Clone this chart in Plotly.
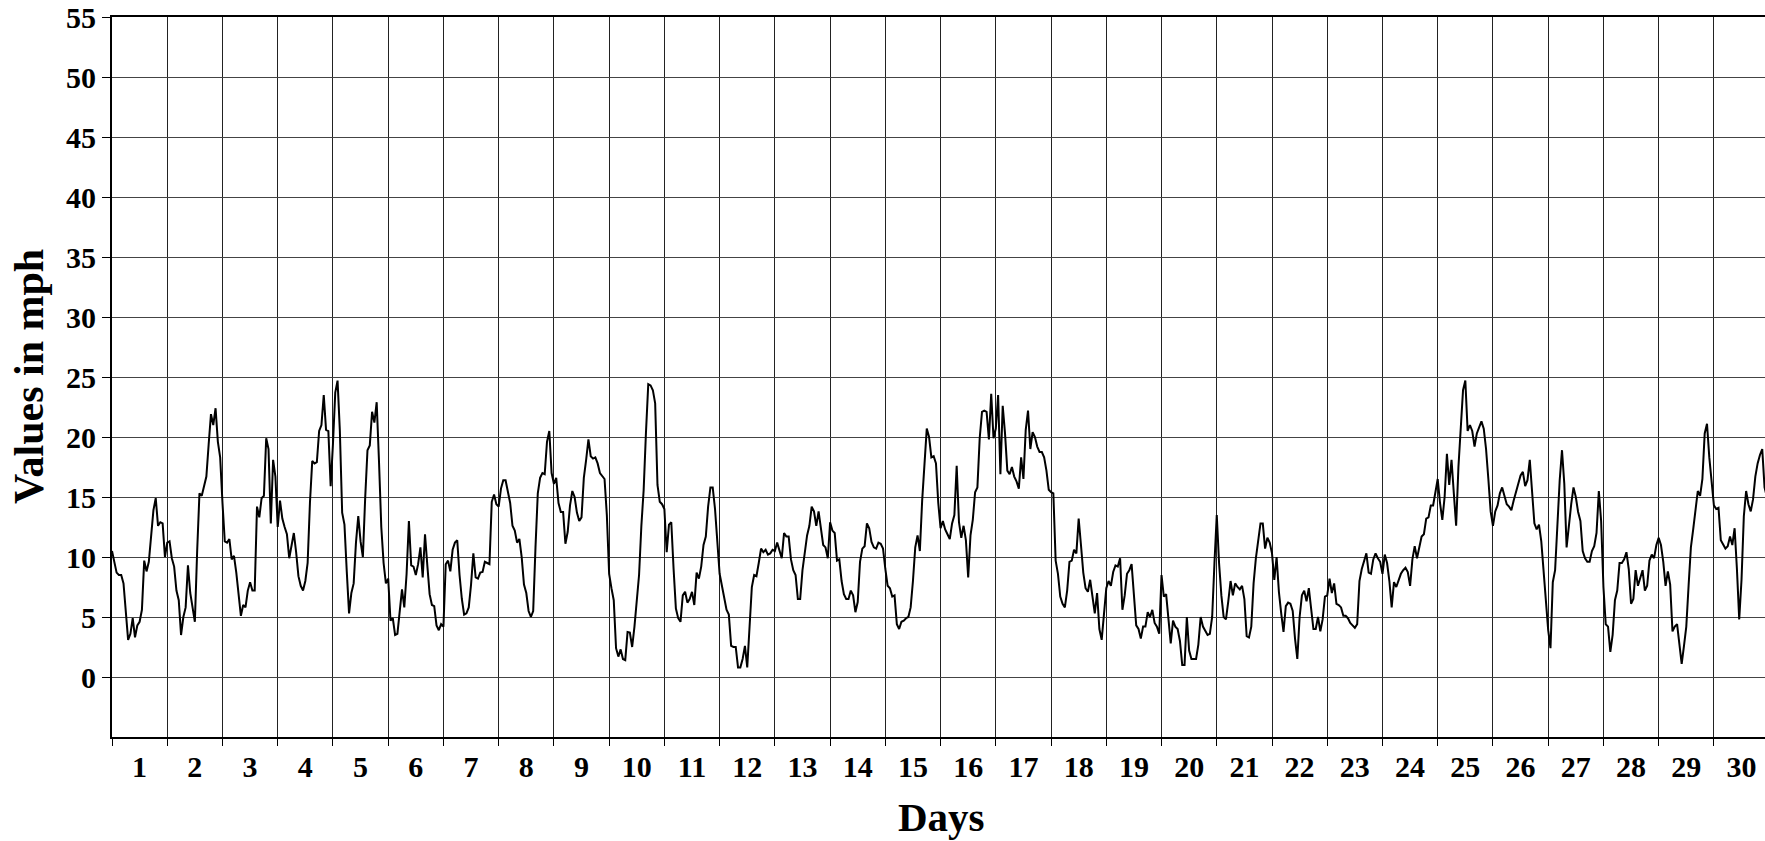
import plotly.graph_objects as go

# Hourly wind speed values (mph), one list per day
day01 = [10.5, 9.6, 8.7, 8.5, 8.5, 7.8, 5.0, 3.1, 3.6, 4.9, 3.3, 4.3, 4.6, 5.6, 9.7, 8.8, 9.6, 11.5, 13.9, 14.9, 12.6, 12.9, 12.8, 10.0]
day02 = [11.2, 11.3, 9.9, 9.2, 7.2, 6.4, 3.5, 5.0, 5.8, 9.3, 7.0, 5.8, 4.6, 10.5, 15.3, 15.1, 15.8, 16.7, 19.4, 21.9, 21.0, 22.4, 19.6, 18.3]
day03 = [14.5, 11.3, 11.2, 11.5, 9.8, 10.1, 8.7, 6.9, 5.1, 6.0, 5.8, 7.2, 7.9, 7.2, 7.2, 14.2, 13.3, 14.9, 15.1, 19.9, 19.0, 12.8, 18.1, 16.7]
day04 = [12.5, 14.7, 13.2, 12.5, 11.9, 9.9, 10.9, 12.0, 10.4, 8.4, 7.6, 7.2, 8.0, 9.5, 14.5, 18.0, 17.8, 17.9, 20.5, 21.0, 23.5, 20.6, 20.5, 15.9]
day05 = [19.4, 23.7, 24.7, 20.5, 13.7, 12.7, 8.8, 5.3, 7.0, 7.8, 11.2, 13.4, 11.3, 10.0, 14.9, 18.9, 19.3, 22.1, 21.2, 22.9, 18.0, 12.5, 9.5, 7.8]
day06 = [8.2, 4.7, 4.9, 3.5, 3.6, 5.8, 7.3, 5.8, 8.6, 13.0, 9.3, 9.2, 8.5, 9.4, 10.8, 8.3, 11.9, 9.3, 6.9, 6.0, 5.9, 4.3, 3.9, 4.4]
day07 = [4.2, 9.4, 9.7, 8.8, 10.6, 11.2, 11.4, 8.5, 6.5, 5.2, 5.3, 5.8, 7.7, 10.3, 8.3, 8.2, 8.7, 8.75, 9.6, 9.5, 9.4, 14.6, 15.2, 14.4]
day08 = [14.2, 15.7, 16.4, 16.4, 15.5, 14.5, 12.6, 12.2, 11.2, 11.5, 10.0, 7.7, 7.0, 5.5, 5.0, 5.5, 10.8, 15.3, 16.6, 17.0, 16.9, 19.6, 20.5, 17.0]
day09 = [16.1, 16.6, 14.5, 13.75, 13.75, 11.1, 12.1, 14.3, 15.5, 15.0, 13.7, 13.0, 13.3, 16.6, 18.1, 19.8, 18.4, 18.2, 18.3, 17.8, 17.0, 16.7, 16.5, 13.5]
day10 = [8.6, 7.4, 6.4, 2.4, 1.7, 2.3, 1.5, 1.4, 3.75, 3.7, 2.5, 4.2, 6.4, 8.5, 12.6, 15.6, 20.4, 24.4, 24.3, 23.9, 22.8, 16.0, 14.6, 14.4]
day11 = [14.0, 10.4, 12.7, 12.9, 9.0, 5.7, 4.9, 4.6, 6.8, 7.1, 6.2, 6.5, 7.1, 6.0, 8.7, 8.2, 9.2, 11.0, 11.7, 14.2, 15.8, 15.8, 14.0, 11.3]
day12 = [8.6, 7.6, 6.5, 5.6, 5.2, 2.6, 2.5, 2.5, 0.8, 0.8, 1.5, 2.6, 0.8, 4.5, 7.5, 8.5, 8.4, 9.5, 10.7, 10.4, 10.6, 10.2, 10.3, 10.6]
day13 = [10.5, 11.2, 10.6, 9.9, 12.0, 11.7, 11.7, 9.8, 8.9, 8.5, 6.5, 6.5, 8.9, 10.4, 11.8, 12.6, 14.2, 13.8, 12.6, 13.8, 12.2, 11.0, 10.8, 9.9]
day14 = [12.9, 12.2, 12.0, 9.7, 9.8, 8.0, 6.9, 6.5, 6.5, 7.2, 6.8, 5.4, 6.25, 9.6, 10.7, 10.9, 12.8, 12.4, 11.25, 10.8, 10.7, 11.2, 11.1, 10.7]
day15 = [9.0, 7.6, 7.4, 6.7, 6.8, 4.4, 4.0, 4.6, 4.7, 4.9, 5.0, 5.8, 8.0, 10.8, 11.8, 10.5, 14.7, 18.1, 20.7, 20.0, 18.3, 18.4, 17.8, 14.5]
day16 = [12.4, 13.0, 12.3, 11.9, 11.5, 12.8, 13.5, 17.6, 12.9, 11.6, 12.6, 11.4, 8.3, 11.8, 13.1, 15.4, 15.8, 19.9, 22.1, 22.2, 22.1, 19.8, 23.6, 19.9]
day17 = [20.7, 23.5, 16.9, 22.6, 20.3, 17.2, 16.9, 17.5, 16.7, 16.3, 15.7, 18.3, 16.5, 20.6, 22.2, 19.0, 20.4, 20.0, 19.2, 18.75, 18.75, 18.3, 17.2, 15.6]
day18 = [15.4, 15.3, 9.7, 8.6, 6.7, 6.1, 5.8, 7.2, 9.6, 9.7, 10.6, 10.3, 13.2, 11.0, 8.7, 7.4, 7.1, 8.1, 6.5, 5.3, 7.0, 4.0, 3.1, 5.6]
day19 = [7.4, 8.0, 7.6, 8.75, 9.3, 9.2, 9.9, 5.6, 6.8, 8.6, 8.9, 9.4, 6.5, 4.3, 4.0, 3.2, 4.2, 4.2, 5.4, 5.0, 5.6, 4.5, 4.2, 3.6]
day20 = [8.5, 6.7, 6.9, 4.8, 2.8, 4.7, 4.2, 4.0, 3.0, 1.0, 1.0, 5.0, 2.2, 1.5, 1.5, 1.5, 2.7, 5.0, 4.2, 3.9, 3.5, 3.6, 5.0, 9.5]
day21 = [13.5, 9.5, 6.8, 5.0, 4.8, 6.3, 8.0, 6.8, 7.8, 7.5, 7.3, 7.6, 6.5, 3.4, 3.3, 4.2, 7.8, 9.9, 11.25, 12.8, 12.8, 10.7, 11.6, 11.2]
day22 = [10.3, 8.1, 10.0, 7.1, 5.3, 3.75, 5.9, 6.2, 6.1, 5.5, 3.2, 1.5, 5.0, 6.8, 7.2, 6.3, 7.4, 5.6, 4.0, 4.0, 5.0, 3.8, 4.8, 6.7]
day23 = [6.8, 8.2, 7.0, 7.8, 6.1, 6.0, 5.8, 5.1, 5.1, 4.9, 4.5, 4.3, 4.1, 4.4, 8.0, 9.0, 9.6, 10.3, 8.7, 8.6, 9.8, 10.3, 9.9, 9.6]
day24 = [8.6, 10.2, 9.5, 8.0, 5.8, 7.9, 7.5, 8.1, 8.6, 8.9, 9.1, 8.75, 7.6, 9.8, 10.9, 9.9, 10.9, 11.7, 11.9, 13.2, 13.3, 14.3, 14.3, 15.5]
day25 = [16.5, 14.5, 13.1, 15.0, 18.6, 16.0, 18.1, 15.3, 12.6, 17.5, 20.5, 23.9, 24.7, 20.5, 21.0, 20.5, 19.2, 20.3, 20.8, 21.3, 20.7, 19.0, 16.5, 13.8]
day26 = [12.6, 13.8, 14.3, 15.3, 15.8, 15.0, 14.4, 14.2, 13.9, 14.7, 15.3, 16.1, 16.8, 17.1, 15.9, 16.4, 18.1, 15.6, 12.8, 12.3, 12.7, 11.3, 9.0, 6.3]
day27 = [3.9, 2.4, 7.9, 8.9, 13.2, 16.4, 18.9, 16.1, 10.8, 12.9, 14.4, 15.8, 15.0, 13.75, 13.0, 10.5, 9.9, 9.6, 9.6, 10.5, 10.9, 12.0, 15.5, 13.0]
day28 = [7.5, 4.4, 4.2, 2.1, 3.5, 6.4, 7.2, 9.5, 9.5, 9.8, 10.4, 9.0, 6.1, 6.5, 8.9, 7.6, 8.2, 8.9, 7.2, 7.6, 9.7, 10.2, 9.9, 11.0]
day29 = [11.6, 11.0, 9.6, 7.6, 8.8, 7.7, 3.8, 4.2, 4.4, 2.5, 1.1, 2.6, 4.2, 7.6, 10.8, 12.3, 14.0, 15.5, 15.1, 16.5, 20.3, 21.1, 18.3, 16.0]
day30 = [14.3, 14.0, 14.1, 11.4, 11.0, 10.7, 10.9, 11.7, 11.0, 12.4, 9.0, 4.8, 8.1, 13.4, 15.5, 14.4, 13.8, 14.8, 16.7, 17.8, 18.5, 19.0, 15.8, 15.0]

days = [day01, day02, day03, day04, day05, day06, day07, day08, day09, day10,
        day11, day12, day13, day14, day15, day16, day17, day18, day19, day20,
        day21, day22, day23, day24, day25, day26, day27, day28, day29, day30]
day_labels = [str(i) for i in range(1, 31)]
y_ticks = [0, 5, 10, 15, 20, 25, 30, 35, 40, 45, 50, 55]

hours, values = [], []
for d, vals in enumerate(days):
    for h, v in enumerate(vals):
        hours.append(24 * d + h)
        values.append(v)

FONT = "Liberation Serif"

fig = go.Figure()
fig.add_trace(go.Scatter(x=hours, y=values, mode="lines",
                         line=dict(color="black", width=2),
                         hoverinfo="skip", showlegend=False))

fig.update_layout(
    width=1765, height=841,
    margin=dict(l=112, r=0, t=17, b=104),
    paper_bgcolor="white", plot_bgcolor="white",
    showlegend=False,
    xaxis=dict(
        range=[0, 718.2],
        tickmode="array",
        tickvals=[24 * i + 12 for i in range(30)],
        ticktext=day_labels,
        ticks="outside", ticklen=2, tickcolor="rgba(0,0,0,0)",
        showgrid=False, zeroline=False,
        showline=True, linecolor="black", linewidth=2, mirror=True,
        tickfont=dict(family=FONT, size=30, color="black", weight="bold"),
        minor=dict(tick0=0, dtick=24, ticks="outside", ticklen=7,
                   tickcolor="black", tickwidth=1,
                   showgrid=True, gridcolor="#222222", gridwidth=1),
    ),
    yaxis=dict(
        range=[-5, 55],
        tickmode="array", tickvals=y_ticks,
        ticks="outside", ticklen=8, tickcolor="black", tickwidth=1,
        showgrid=True, gridcolor="#444444", gridwidth=1.3,
        zeroline=False, showline=True, linecolor="black", linewidth=2,
        tickfont=dict(family=FONT, size=30, color="black", weight="bold"),
    ),
    annotations=[
        dict(text="Values in mph", xref="paper", yref="paper",
             x=(29 - 112) / 1653, y=0.5, xanchor="center", yanchor="middle",
             textangle=-90, showarrow=False,
             font=dict(family=FONT, size=42, color="black", weight="bold")),
        dict(text="Days", xref="paper", yref="paper",
             x=(941 - 112) / 1653, y=(737 - 817) / 720,
             xanchor="center", yanchor="middle", showarrow=False,
             font=dict(family=FONT, size=41, color="black", weight="bold")),
    ],
)

fig.write_html("out.html", config={"displayModeBar": False},
               post_script="document.body.style.margin='0';document.body.style.overflow='hidden';")
